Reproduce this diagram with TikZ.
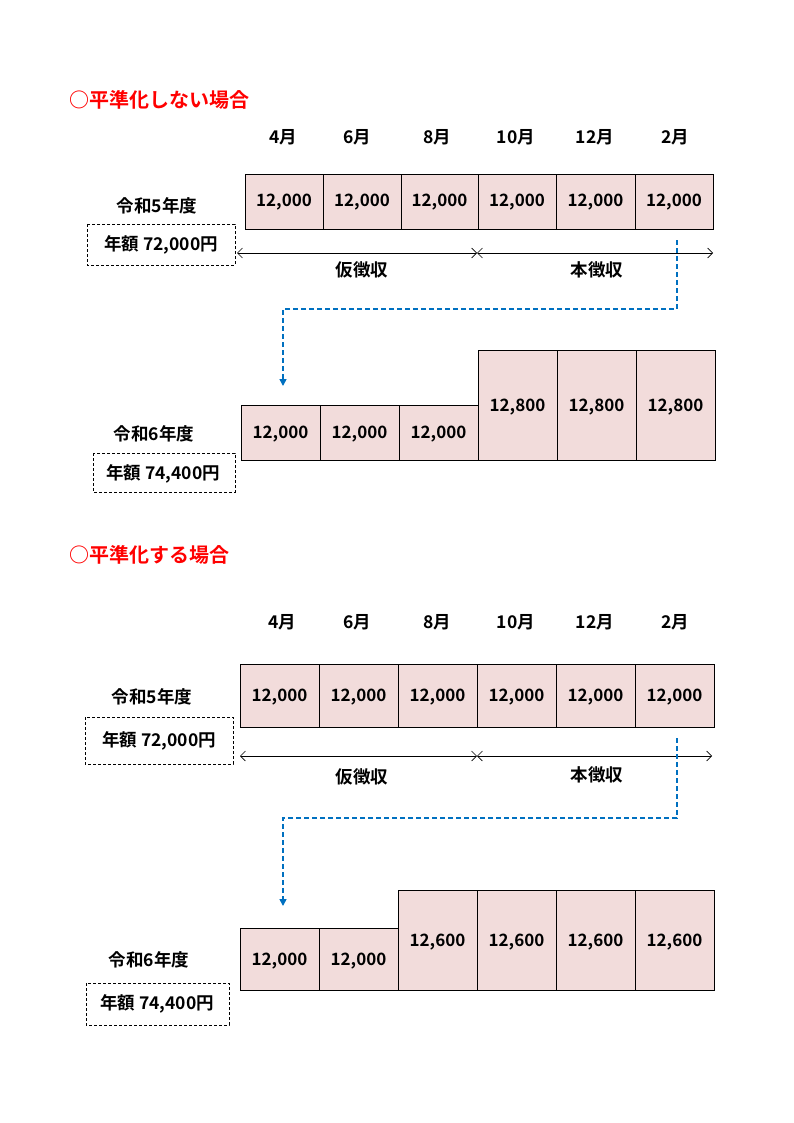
\documentclass[tikz,border=0pt]{standalone}
\usepackage{fontspec}
\setmainfont{Noto Sans CJK JP}[BoldFont={Noto Sans CJK JP Bold}]
\usetikzlibrary{arrows.meta}
\definecolor{pk}{HTML}{F2DCDB}
\definecolor{bl}{HTML}{0070C0}
\definecolor{rd}{HTML}{FF0000}
\begin{document}
\begin{tikzpicture}[x=1pt,y=-1pt,
 cell/.style={draw=black,fill=pk,line width=0.7pt},
 lab/.style={font=\bfseries\fontsize{17.5}{19}\selectfont},
 num/.style={font=\bfseries\fontsize{17}{19}\selectfont},
 dbox/.style={draw,dash pattern=on 3pt off 2pt,line width=0.7pt},
 ttl/.style={font=\bfseries\fontsize{20}{22}\selectfont,text=rd,anchor=west},
 dim/.style={{Straight Barb[length=5pt]}-{Straight Barb[length=5pt]},line width=0.6pt},
 blu/.style={draw=bl,dash pattern=on 5pt off 3pt,line width=1.6pt,-{Triangle[length=7pt,width=7pt]}}]
\useasboundingbox (0,0) rectangle (794,1123);
% ---------- top ----------
\node[ttl] (t1) at (66,100) {○平準化しない場合};
\foreach \m/\x in {4月/283,6月/357,8月/437,10月/516,12月/595,2月/675}
  \node[lab] at (\x,137) {\m};
\foreach \a/\b [count=\i] in {245/323,323/401,401/478,478/556,556/635,635/713}
  {\draw[cell] (\a,174) rectangle (\b,229);
   \node[num] (a\i) at ({(\a+\b)/2},202) {12,000};}
\node[lab] (y1) at (157,206) {令和5年度};
\draw[dbox] (87,224) rectangle (235,265);
\node[lab] (s1) at (161,245) {年額 72,000円};
\coordinate (p1) at (237,253); \coordinate (p2) at (477,253); \coordinate (p3) at (713,253);
\draw[dim] (p1) -- (p2); \draw[dim] (p2) -- (p3);
\node[lab] at (362,270) {仮徴収};
\node[lab] at (597,270) {本徴収};
\coordinate (b1) at (677,240); \coordinate (b2) at (283,386);
\draw[blu] (b1) |- (283,309) -- (b2);
\foreach \a/\b [count=\i] in {241/320,320/399,399/478}
  {\draw[cell] (\a,405) rectangle (\b,460);
   \node[num] (c\i) at ({(\a+\b)/2},434) {12,000};}
\foreach \a/\b [count=\i] in {478/557,557/636,636/715}
  {\draw[cell] (\a,350) rectangle (\b,460);
   \node[num] (d\i) at ({(\a+\b)/2},407) {12,800};}
\node[lab] (y2) at (154,434) {令和6年度};
\draw[dbox] (93,453) rectangle (235,492);
\node[lab] (s2) at (163,474) {年額 74,400円};
% ---------- bottom ----------
\node[ttl] (t2) at (66,555) {○平準化する場合};
\foreach \m/\x in {4月/282,6月/357,8月/437,10月/516,12月/595,2月/675}
  \node[lab] at (\x,622) {\m};
\foreach \a/\b [count=\i] in {240/319,319/398,398/477,477/556,556/635,635/714}
  {\draw[cell] (\a,664) rectangle (\b,727);
   \node[num] (e\i) at ({(\a+\b)/2},697) {12,000};}
\node[lab] (y3) at (152,697) {令和5年度};
\draw[dbox] (85,717) rectangle (233,764);
\node[lab] (s3) at (159,741) {年額 72,000円};
\coordinate (q1) at (240,756); \coordinate (q2) at (477,756); \coordinate (q3) at (712,756);
\draw[dim] (q1) -- (q2); \draw[dim] (q2) -- (q3);
\node[lab] at (362,777) {仮徴収};
\node[lab] at (597,775) {本徴収};
\coordinate (r1) at (677,738); \coordinate (r2) at (283,906);
\draw[blu] (r1) |- (283,818) -- (r2);
\foreach \a/\b [count=\i] in {240/319,319/398}
  {\draw[cell] (\a,928) rectangle (\b,990);
   \node[num] (f\i) at ({(\a+\b)/2},961) {12,000};}
\foreach \a/\b [count=\i] in {398/477,477/556,556/635,635/714}
  {\draw[cell] (\a,890) rectangle (\b,990);
   \node[num] (g\i) at ({(\a+\b)/2},942) {12,600};}
\node[lab] (y4) at (149,960) {令和6年度};
\draw[dbox] (86,983) rectangle (229,1025);
\node[lab] (s4) at (157,1004) {年額 74,400円};
\end{tikzpicture}
\end{document}
